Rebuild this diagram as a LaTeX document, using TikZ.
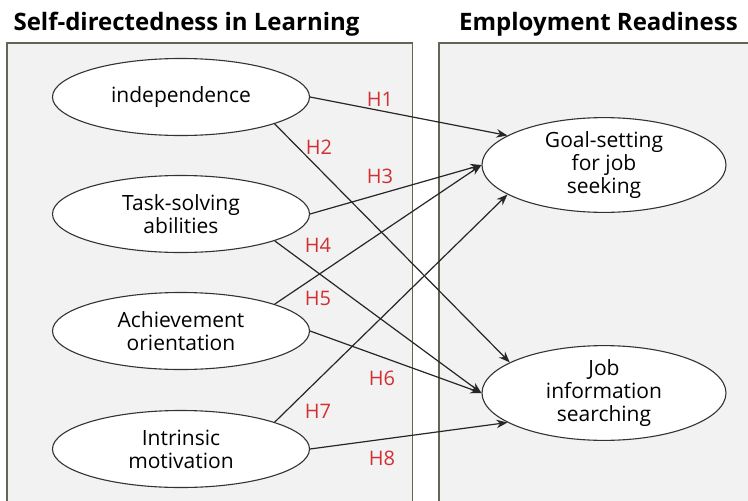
\documentclass[tikz,border=0pt]{standalone}
\usepackage{fontspec}
\setmainfont{Open Sans}
\usetikzlibrary{shapes.geometric,arrows.meta}
\definecolor{panelline}{RGB}{102,100,82}
\definecolor{hred}{RGB}{208,48,52}
\begin{document}
\begin{tikzpicture}[x=1pt, y=-1pt,
  every node/.style={align=center, font=\fontsize{21}{23}\selectfont},
  var/.style={ellipse, draw=black!80, fill=white, line width=1.1pt, inner sep=0pt},
  hyp/.style={text=hred, font=\fontsize{20}{22}\selectfont},
  head/.style={anchor=base, font=\fontsize{24}{26}\selectfont\bfseries},
  path/.style={-{Stealth[length=11pt,width=8.5pt]}, line width=1.2pt, draw=black!85}]
  \useasboundingbox (0,0) rectangle (748,501);
  % the two panels
  \draw[panelline, fill=black!5, line width=1.2pt] (7,43) rectangle (412.5,520);
  \draw[panelline, fill=black!5, line width=1.2pt] (439,43) rectangle (770,520);
  \node[head] (L) at (186.5,30) {Self-directedness in Learning};
  \node[head] (R) at (598.5,30) {Employment Readiness};
  % constructs
  \node[var, minimum width=257pt, minimum height=77pt] (I) at (181,97) {independence};
  \node[var, minimum width=257pt, minimum height=77pt] (T) at (181,214) {Task-solving\\abilities};
  \node[var, minimum width=257pt, minimum height=77pt] (A) at (181,331) {Achievement\\orientation};
  \node[var, minimum width=257pt, minimum height=77pt] (M) at (181,449) {Intrinsic\\motivation};
  \node[var, minimum width=244pt, minimum height=76pt] (G) at (604,165) {Goal-setting\\for job\\seeking};
  \node[var, minimum width=244pt, minimum height=77pt] (J) at (604,393) {Job\\information\\searching};
  % hypotheses
  \draw[path] (I.east) -- (G.163);
  \draw[path] (I.-16) -- (J.162);
  \draw[path] (T.east) -- (G.west);
  \draw[path] (T.-16) -- (J.west);
  \draw[path] (A.16) -- (G.west);
  \draw[path] (A.east) -- (J.west);
  \draw[path] (M.16) -- (G.-163);
  \draw[path] (M.east) -- (J.-163);
  \node[hyp] (h1) at (380,99) {H1};
  \node[hyp] (h2) at (319,147) {H2};
  \node[hyp] (h3) at (380,176) {H3};
  \node[hyp] (h4) at (318,245) {H4};
  \node[hyp] (h5) at (318,298) {H5};
  \node[hyp] (h6) at (382,378) {H6};
  \node[hyp] (h7) at (318,411) {H7};
  \node[hyp] (h8) at (382,458) {H8};
\end{tikzpicture}
\end{document}
